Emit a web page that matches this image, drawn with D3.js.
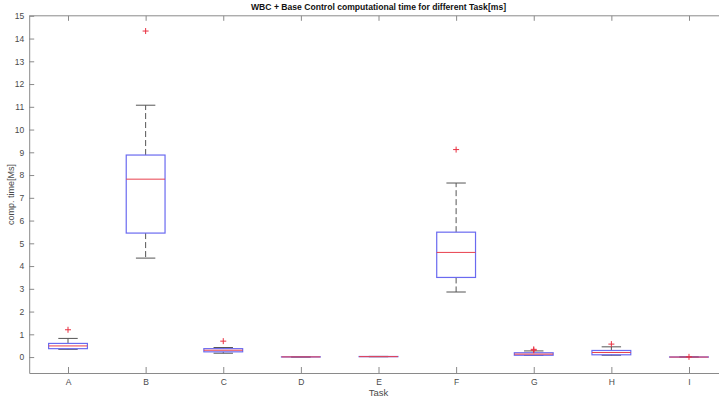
<!DOCTYPE html>
<html><head><meta charset="utf-8">
<script src="https://cdn.jsdelivr.net/npm/d3@7"></script>
<style>
body{margin:0;background:#fff;}
svg{display:block;font-family:"Liberation Sans",Arial,sans-serif;}
</style></head>
<body>
<svg id="chart" width="719" height="399"></svg>
<script>
const categories = ["A","B","C","D","E","F","G","H","I"];
const lowerWhisker = [0.34, 4.35, 0.17, 0.00, 0.015, 2.86, 0.07, 0.08, 0.00];
const q1           = [0.37, 5.45, 0.23, 0.005, 0.018, 3.50, 0.08, 0.10, 0.00];
const median       = [0.49, 7.82, 0.30, 0.008, 0.02, 4.60, 0.13, 0.20, 0.00];
const q3           = [0.60, 8.88, 0.37, 0.01, 0.025, 5.49, 0.19, 0.29, 0.005];
const upperWhisker = [0.82, 11.07, 0.42, 0.012, 0.03, 7.65, 0.27, 0.45, 0.008];
const outliers     = [[1.20], [14.33], [0.70], [], [], [9.12], [0.34, 0.30], [0.57], [0.01]];
const yTicks = d3.range(0, 16);
const titleText = "WBC + Base Control computational time for different Task[ms]";
const xLabel = "Task";
const yLabel = "comp. time[Ms]";

const svg = d3.select("#chart");
const x = d3.scaleLinear().domain([0.5, 9.5]).range([29.2, 727.8]);
const y = d3.scaleLinear().domain([-0.7, 15]).range([373, 15.8]);
const axisColor = "#8a8a8a", textColor = "#4a4a4a";

const g = svg.append("g");
g.append("line").attr("x1", x(0.5)).attr("x2", x(9.5)).attr("y1", y(15)).attr("y2", y(15)).attr("stroke", axisColor);

const ax = g.append("g").attr("transform", `translate(${x(0.5)},0)`)
  .call(d3.axisLeft(y).tickValues(yTicks).tickSize(-5).tickSizeOuter(0).tickPadding(5).tickFormat(d3.format("d")));
const bx = g.append("g").attr("transform", `translate(0,${y(-0.7)})`)
  .call(d3.axisBottom(x).tickValues(d3.range(1, 10)).tickSize(-6).tickSizeOuter(0).tickPadding(6).tickFormat(d => categories[d - 1]));
const tx = g.append("g").attr("transform", `translate(0,${y(15)})`)
  .call(d3.axisTop(x).tickValues(d3.range(1, 10)).tickSize(-5).tickSizeOuter(0).tickFormat(""));
tx.select(".domain").remove();
[ax, bx, tx].forEach(a => {
  a.selectAll(".domain").attr("stroke", axisColor);
  a.selectAll(".tick line").attr("stroke", axisColor);
  a.selectAll(".tick text").attr("fill", textColor).attr("font-size", 8.5).attr("font-family", "Liberation Sans, Arial, sans-serif");
});

const boxW = 0.5, capW = 0.25;
categories.forEach((c, i) => {
  const cx = i + 1;
  const gb = g.append("g");
  gb.append("line").attr("x1", x(cx)).attr("x2", x(cx)).attr("y1", y(q3[i])).attr("y2", y(upperWhisker[i]))
    .attr("stroke", "#555").attr("stroke-dasharray", "6,3");
  gb.append("line").attr("x1", x(cx)).attr("x2", x(cx)).attr("y1", y(q1[i])).attr("y2", y(lowerWhisker[i]))
    .attr("stroke", "#555").attr("stroke-dasharray", "6,3");
  gb.append("line").attr("x1", x(cx - capW / 2)).attr("x2", x(cx + capW / 2)).attr("y1", y(upperWhisker[i])).attr("y2", y(upperWhisker[i])).attr("stroke", "#555");
  gb.append("line").attr("x1", x(cx - capW / 2)).attr("x2", x(cx + capW / 2)).attr("y1", y(lowerWhisker[i])).attr("y2", y(lowerWhisker[i])).attr("stroke", "#555");
  gb.append("rect").attr("x", x(cx - boxW / 2)).attr("width", x(cx + boxW / 2) - x(cx - boxW / 2))
    .attr("y", y(q3[i])).attr("height", Math.max(0.01, y(q1[i]) - y(q3[i])))
    .attr("fill", "none").attr("stroke", "#6a6af0").attr("stroke-width", 1.2);
  gb.append("line").attr("x1", x(cx - boxW / 2)).attr("x2", x(cx + boxW / 2)).attr("y1", y(median[i])).attr("y2", y(median[i]))
    .attr("stroke", "#e8404e").attr("stroke-width", 1);
  outliers[i].forEach(v => {
    gb.append("path").attr("d", `M${x(cx) - 3},${y(v)}h6M${x(cx)},${y(v) - 3}v6`).attr("stroke", "#e83040").attr("stroke-width", 1);
  });
});

svg.append("text").attr("x", x(5)).attr("y", 10).attr("text-anchor", "middle")
  .attr("font-weight", "bold").attr("font-size", 8.6).attr("fill", "#111").text(titleText);
svg.append("text").attr("x", x(5)).attr("y", 396).attr("text-anchor", "middle")
  .attr("font-size", 9.5).attr("fill", textColor).text(xLabel);
svg.append("text").attr("transform", `translate(14,${(y(15) + y(-0.7)) / 2}) rotate(-90)`).attr("text-anchor", "middle")
  .attr("font-size", 9).attr("fill", textColor).text(yLabel);
</script>
</body></html>
